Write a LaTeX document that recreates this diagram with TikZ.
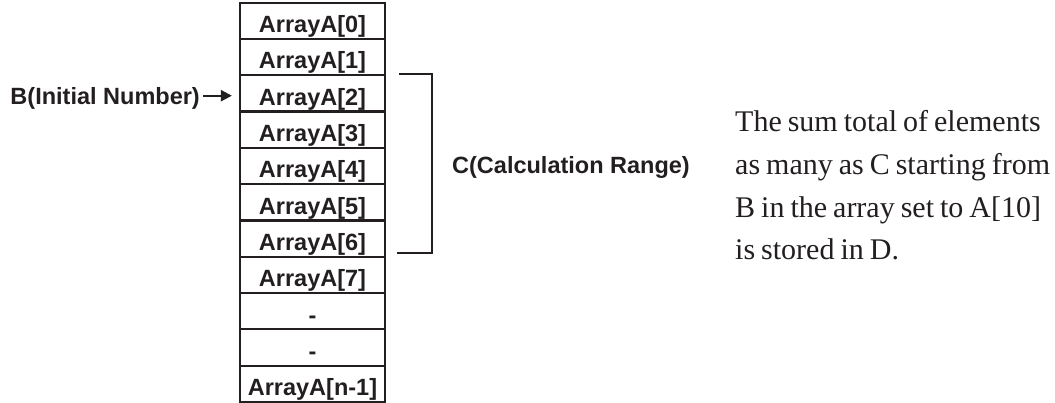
\documentclass[tikz,border=0pt]{standalone}
\usepackage{fontspec}
\setmainfont{Liberation Serif}
\newfontfamily\arialfont{Liberation Sans}
\usetikzlibrary{arrows.meta}
\definecolor{ink}{HTML}{231F20}
\begin{document}
\begin{tikzpicture}[x=1pt,y=-1pt,
  cell/.style={draw=ink,line width=2.2pt,minimum width=145pt,minimum height=36.3pt,
    inner sep=0pt,text height=23.7pt,text depth=0pt,
    font=\arialfont\bfseries\fontsize{23.5}{26}\selectfont,text=ink},
  sanslabel/.style={inner sep=0pt,font=\arialfont\bfseries\fontsize{23.5}{26}\selectfont,text=ink},
  serifline/.style={inner sep=0pt,anchor=base west,font=\fontsize{30}{36}\selectfont,text=ink},
  bracket/.style={draw=ink,line width=2.2pt}]
\useasboundingbox (0,0) rectangle (1055,403);
\foreach \i/\t in {0/ArrayA[0],1/ArrayA[1],2/ArrayA[2],3/ArrayA[3],4/ArrayA[4],5/ArrayA[5],6/ArrayA[6],7/ArrayA[7],8/-,9/-,10/ArrayA[n-1]}{
  \node[cell] (r\i) at (312.5,{2.7+36.3*\i+18.15}) {\t};
}
\node[sanslabel,anchor=base east,text height=18.6pt,text depth=0pt] (blabel) at (200,105) {B(Initial Number)};
\draw[ink,line width=2.2pt,shorten <=3pt,shorten >=7pt,-{Triangle[length=11pt,width=11pt]}] (blabel.east) -- (blabel.east -| r2.west);
\coordinate (bt1) at (399,74.3);
\coordinate (bt2) at (432,74.3);
\coordinate (bb2) at (432,253);
\coordinate (bb1) at (397,253);
\draw[bracket] (bt1) -- (bt2) -- (bb2) -- (bb1);
\node[sanslabel,anchor=base west] (clabel) at (452,174) {C(Calculation Range)};
\node[serifline] (t1) at (735,132) {\spaceskip=0.2em The sum total of elements};
\node[serifline] (t2) at (735,175) {\spaceskip=0.2em as many as C starting from};
\node[serifline] (t3) at (735,218) {\spaceskip=0.2em B in the array set to A[10]};
\node[serifline] (t4) at (735,260) {\spaceskip=0.2em is stored in D.};
\end{tikzpicture}
\end{document}
